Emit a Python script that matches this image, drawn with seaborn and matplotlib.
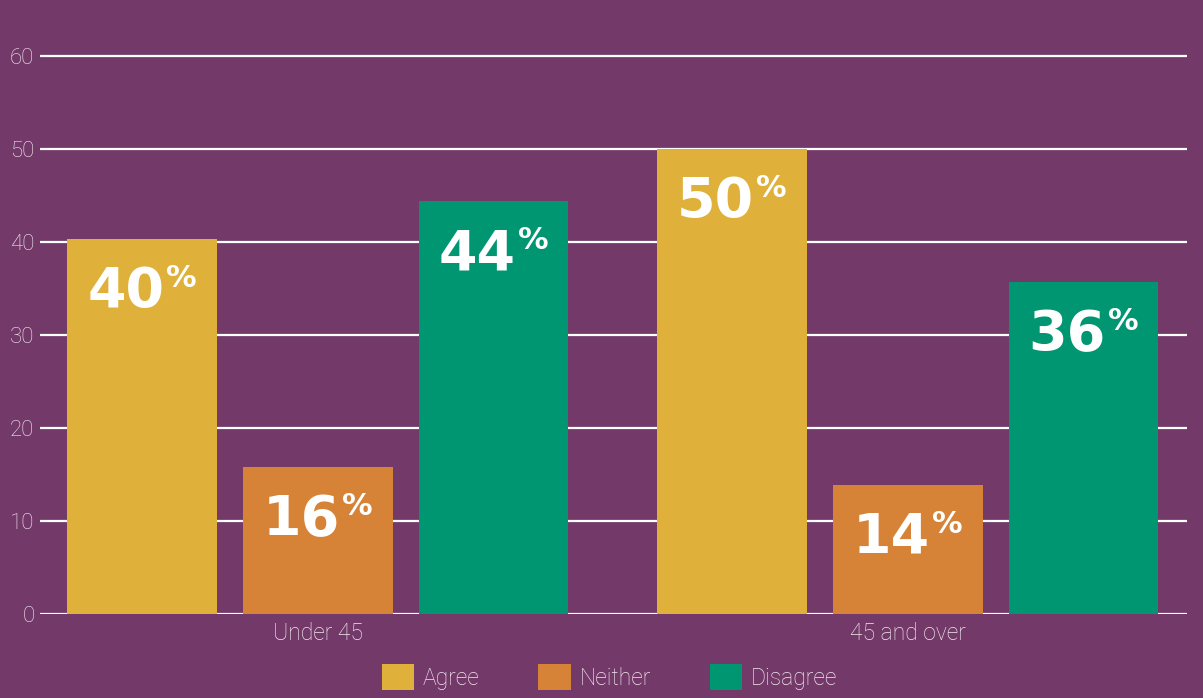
import matplotlib
matplotlib.use("Agg")
import matplotlib.pyplot as plt
import seaborn as sns
import pandas as pd

groups = ["Under 45", "45 and over"]
responses = ["Agree", "Neither", "Disagree"]
agree = [40.3, 50.0]
neither = [15.8, 13.9]
disagree = [44.4, 35.7]
y_ticks = [0, 10, 20, 30, 40, 50, 60]
colors = ["#DFB13B", "#D68337", "#009672"]
bg = "#733A69"
txt = "#F3E8F0"

rows = []
for resp, vals in zip(responses, [agree, neither, disagree]):
    for g, v in zip(groups, vals):
        rows.append({"group": g, "response": resp, "value": v})
df = pd.DataFrame(rows)

sns.set_theme(style="white")
plt.rcParams["font.family"] = ["Roboto", "DejaVu Sans"]

W, H = 1203, 698
fig = plt.figure(figsize=(W / 100, H / 100), dpi=100, facecolor=bg)
ax = fig.add_axes([40 / W, 1 - 614 / H, (1187 - 40) / W, (614 - 50) / H])
ax.set_facecolor(bg)

sns.barplot(data=df, x="group", y="value", hue="response", order=groups,
            hue_order=responses, palette=colors, width=0.894, gap=0.15,
            saturation=1, errorbar=None, linewidth=0, ax=ax, zorder=3)

ax.set_xlim(-0.471, 1.473)
ax.set_ylim(0, 60.65)
ax.set_yticks(y_ticks)
ax.yaxis.grid(True, color="white", lw=1.6)
ax.xaxis.grid(False)
ax.set_axisbelow(True)
for s in ax.spines.values():
    s.set_visible(False)
ax.set_xlabel("")
ax.set_ylabel("")
ax.tick_params(axis="y", length=0, pad=4, labelsize=16, labelcolor=txt)
ax.tick_params(axis="x", length=0, pad=6, labelsize=16.5, labelcolor=txt)
for lab in ax.get_yticklabels() + ax.get_xticklabels():
    lab.set_fontweight("light")

px = 0.72
for cont in ax.containers:
    for bar in cont:
        cx = bar.get_x() + bar.get_width() / 2
        top = bar.get_height()
        ax.annotate(f"{round(top)}", (cx, top), xytext=(22 * px, -68 * px),
                    textcoords="offset points", ha="right", va="baseline",
                    fontsize=40, fontweight="bold", color="white",
                    family="DejaVu Sans", zorder=5)
        ax.annotate("%", (cx, top), xytext=(24 * px, -48 * px),
                    textcoords="offset points", ha="left", va="baseline",
                    fontsize=22, fontweight="bold", color="white",
                    family="DejaVu Sans", zorder=5)

handles, labels = ax.get_legend_handles_labels()
if ax.get_legend() is not None:
    ax.get_legend().remove()
leg = fig.legend(handles, labels, loc="center", bbox_to_anchor=(609.5 / W, 1 - 677 / H),
                 ncol=3, frameon=False, fontsize=16.5, handlelength=1.4,
                 handleheight=1.4, handletextpad=0.39, columnspacing=2.58,
                 labelcolor=txt)
for t in leg.get_texts():
    t.set_fontweight("light")

fig.savefig("out.png", dpi=100, facecolor=bg)
